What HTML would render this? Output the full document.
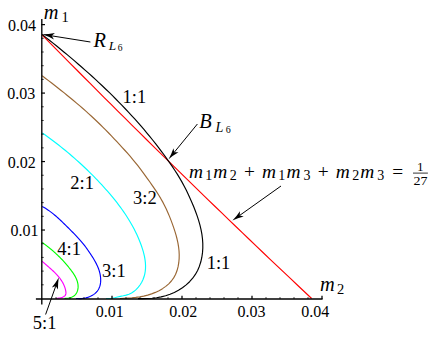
<!DOCTYPE html>
<html><head><meta charset="utf-8"><title>chart</title>
<style>
html,body{margin:0;padding:0;background:#fff;}
body{width:429px;height:343px;overflow:hidden;font-family:"Liberation Serif",serif;}
svg{display:block;}
svg text{font-family:"Liberation Serif",serif;fill:#000;}
</style></head><body>
<svg width="429" height="343" viewBox="0 0 429 343">
<rect width="429" height="343" fill="#fff"/>
<path d="M42.00,34.75 L48.91,41.78 L55.83,48.81 L62.74,55.81 L69.65,62.81 L76.57,69.78 L83.48,76.75 L90.40,83.69 L97.31,90.63 L104.22,97.55 L111.14,104.45 L118.05,111.34 L124.96,118.21 L131.88,125.07 L138.79,131.92 L145.70,138.75 L152.62,145.57 L159.53,152.37 L166.45,159.16 L173.36,165.93 L180.27,172.69 L187.19,179.44 L194.10,186.17 L201.01,192.88 L207.93,199.59 L214.84,206.28 L221.76,212.95 L228.67,219.61 L235.58,226.26 L242.50,232.90 L249.41,239.52 L256.32,246.12 L263.24,252.72 L270.15,259.30 L277.06,265.86 L283.98,272.41 L290.89,278.95 L297.81,285.48 L304.72,291.99 L311.63,298.49" fill="none" stroke="#ff0000" stroke-width="1.15"/>
<path d="M42.15,261.30 L42.66,261.73 L43.13,262.16 L43.61,262.58 L44.09,263.01 L44.58,263.44 L45.07,263.87 L45.57,264.30 L46.07,264.73 L46.57,265.16 L47.07,265.60 L47.58,266.04 L48.08,266.48 L48.59,266.92 L49.10,267.36 L49.60,267.81 L50.11,268.26 L50.62,268.71 L51.12,269.16 L51.63,269.62 L52.13,270.08 L52.63,270.54 L53.12,271.00 L53.62,271.47 L54.11,271.95 L54.59,272.42 L55.07,272.90 L55.55,273.38 L56.02,273.87 L56.49,274.36 L56.95,274.86 L57.40,275.36 L57.85,275.87 L58.29,276.37 L58.72,276.89 L59.14,277.41 L59.56,277.93 L59.96,278.46 L60.36,279.00 L60.75,279.54 L61.13,280.08 L61.49,280.63 L61.85,281.19 L62.19,281.75 L62.53,282.32 L62.85,282.90 L63.16,283.48 L63.45,284.06 L63.74,284.66 L64.01,285.26 L64.26,285.87 L64.50,286.48 L64.73,287.10 L64.94,287.73 L65.13,288.37 L65.31,289.01 L65.47,289.66 L65.62,290.32 L65.75,290.99 L65.85,291.66 L65.92,292.33 L65.94,292.99 L65.89,293.63 L65.76,294.25 L65.54,294.84 L65.20,295.39 L64.75,295.89 L64.18,296.34 L63.55,296.73 L62.87,297.08 L62.17,297.37 L61.50,297.60 L60.88,297.78 L60.31,297.91 L59.76,298.00 L59.21,298.07 L58.62,298.13 L57.96,298.20 L57.20,298.28 L56.30,298.40" fill="none" stroke="#ff00ff" stroke-width="1.15" stroke-linejoin="round"/>
<path d="M42.15,242.40 L42.98,243.01 L43.82,243.63 L44.65,244.25 L45.47,244.87 L46.28,245.49 L47.09,246.12 L47.88,246.74 L48.67,247.37 L49.45,248.00 L50.22,248.63 L50.99,249.26 L51.75,249.90 L52.50,250.54 L53.24,251.18 L53.98,251.83 L54.71,252.48 L55.43,253.14 L56.15,253.80 L56.87,254.47 L57.57,255.14 L58.27,255.81 L58.97,256.49 L59.66,257.18 L60.35,257.87 L61.03,258.57 L61.71,259.27 L62.38,259.98 L63.05,260.70 L63.71,261.42 L64.37,262.16 L65.03,262.90 L65.68,263.64 L66.33,264.40 L66.98,265.16 L67.62,265.93 L68.27,266.71 L68.90,267.50 L69.54,268.30 L70.18,269.11 L70.81,269.93 L71.43,270.75 L72.05,271.59 L72.65,272.43 L73.23,273.29 L73.80,274.15 L74.35,275.02 L74.87,275.90 L75.36,276.79 L75.82,277.69 L76.25,278.60 L76.64,279.52 L76.99,280.44 L77.30,281.37 L77.56,282.31 L77.78,283.26 L77.94,284.22 L78.05,285.18 L78.10,286.16 L78.09,287.13 L78.01,288.12 L77.87,289.09 L77.67,290.05 L77.39,290.99 L77.05,291.90 L76.63,292.78 L76.14,293.61 L75.57,294.39 L74.92,295.11 L74.20,295.76 L73.39,296.34 L72.49,296.83 L71.53,297.24 L70.51,297.58 L69.46,297.85 L68.40,298.06 L67.35,298.21 L66.33,298.30 L65.36,298.35 L64.50,298.40" fill="none" stroke="#00ff00" stroke-width="1.15" stroke-linejoin="round"/>
<path d="M42.15,206.40 L43.64,207.22 L45.09,208.09 L46.52,208.98 L47.91,209.91 L49.28,210.87 L50.63,211.85 L51.96,212.86 L53.26,213.89 L54.55,214.95 L55.82,216.02 L57.07,217.12 L58.31,218.23 L59.53,219.35 L60.75,220.49 L61.96,221.64 L63.16,222.80 L64.35,223.97 L65.54,225.14 L66.73,226.32 L67.92,227.50 L69.10,228.68 L70.29,229.86 L71.48,231.05 L72.66,232.24 L73.84,233.43 L75.00,234.63 L76.16,235.84 L77.31,237.05 L78.44,238.28 L79.56,239.52 L80.66,240.77 L81.74,242.04 L82.80,243.32 L83.83,244.62 L84.85,245.94 L85.85,247.27 L86.83,248.61 L87.79,249.96 L88.74,251.33 L89.67,252.70 L90.59,254.09 L91.50,255.49 L92.40,256.89 L93.28,258.31 L94.14,259.73 L94.98,261.18 L95.78,262.64 L96.55,264.13 L97.27,265.64 L97.94,267.18 L98.55,268.76 L99.10,270.38 L99.58,272.03 L99.98,273.70 L100.30,275.40 L100.53,277.10 L100.66,278.80 L100.69,280.48 L100.61,282.15 L100.40,283.77 L100.08,285.35 L99.62,286.88 L99.02,288.34 L98.27,289.73 L97.38,291.03 L96.33,292.24 L95.15,293.35 L93.86,294.36 L92.45,295.28 L90.96,296.08 L89.39,296.78 L87.76,297.37 L86.09,297.84 L84.38,298.20 L82.66,298.44 L80.94,298.58 L79.24,298.61 L77.57,298.53 L76.00,298.50" fill="none" stroke="#0000ff" stroke-width="1.15" stroke-linejoin="round"/>
<path d="M42.15,132.90 L44.57,134.56 L46.94,136.26 L49.30,137.98 L51.64,139.72 L53.98,141.48 L56.30,143.26 L58.61,145.05 L60.90,146.87 L63.18,148.70 L65.45,150.55 L67.70,152.41 L69.94,154.30 L72.17,156.20 L74.38,158.12 L76.57,160.06 L78.75,162.02 L80.92,163.99 L83.07,165.98 L85.20,167.99 L87.31,170.02 L89.41,172.06 L91.49,174.12 L93.56,176.20 L95.61,178.29 L97.64,180.41 L99.65,182.53 L101.64,184.68 L103.61,186.84 L105.57,189.02 L107.50,191.21 L109.42,193.43 L111.31,195.66 L113.17,197.91 L115.01,200.18 L116.82,202.48 L118.60,204.79 L120.34,207.13 L122.05,209.49 L123.72,211.88 L125.36,214.29 L126.95,216.73 L128.51,219.19 L130.02,221.69 L131.48,224.21 L132.90,226.76 L134.26,229.35 L135.58,231.96 L136.84,234.61 L138.05,237.29 L139.20,240.01 L140.29,242.76 L141.32,245.54 L142.28,248.36 L143.15,251.20 L143.92,254.06 L144.56,256.94 L145.05,259.81 L145.39,262.69 L145.54,265.56 L145.50,268.41 L145.25,271.24 L144.76,274.05 L144.02,276.81 L143.02,279.54 L141.73,282.20 L140.17,284.77 L138.36,287.19 L136.31,289.40 L134.05,291.34 L131.59,292.97 L128.96,294.22 L126.18,295.11 L123.31,295.77 L120.42,296.36 L117.56,297.02 L114.72,297.69 L111.86,298.24 L108.97,298.55 L106.00,298.50" fill="none" stroke="#00ffff" stroke-width="1.15" stroke-linejoin="round"/>
<path d="M42.15,75.80 L45.32,78.22 L48.50,80.63 L51.67,83.05 L54.83,85.50 L57.98,87.95 L61.11,90.43 L64.23,92.92 L67.33,95.43 L70.42,97.96 L73.49,100.51 L76.54,103.09 L79.57,105.68 L82.59,108.30 L85.58,110.94 L88.55,113.60 L91.49,116.29 L94.42,119.01 L97.32,121.75 L100.19,124.52 L103.03,127.32 L105.85,130.15 L108.65,133.00 L111.42,135.88 L114.17,138.78 L116.90,141.69 L119.62,144.61 L122.32,147.55 L125.00,150.50 L127.65,153.47 L130.27,156.48 L132.85,159.52 L135.37,162.60 L137.86,165.73 L140.30,168.89 L142.70,172.08 L145.06,175.30 L147.40,178.54 L149.71,181.79 L152.01,185.06 L154.27,188.34 L156.49,191.65 L158.64,195.00 L160.71,198.41 L162.67,201.89 L164.52,205.43 L166.27,209.04 L167.92,212.69 L169.48,216.38 L170.95,220.10 L172.35,223.85 L173.67,227.61 L174.91,231.39 L176.05,235.18 L177.06,239.01 L177.91,242.87 L178.57,246.78 L179.02,250.75 L179.21,254.79 L179.13,258.88 L178.75,262.95 L178.04,266.95 L176.97,270.81 L175.52,274.47 L173.66,277.88 L171.38,281.00 L168.74,283.83 L165.77,286.37 L162.53,288.65 L159.05,290.66 L155.39,292.40 L151.58,293.89 L147.68,295.13 L143.72,296.13 L139.76,296.90 L135.82,297.44 L131.89,297.82 L127.97,298.08 L124.02,298.29 L120.00,298.50" fill="none" stroke="#996633" stroke-width="1.15" stroke-linejoin="round"/>
<path d="M42.15,34.40 L45.76,37.33 L49.41,40.21 L53.04,43.12 L56.66,46.04 L60.27,48.98 L63.86,51.94 L67.44,54.91 L71.00,57.91 L74.55,60.92 L78.07,63.95 L81.58,67.00 L85.07,70.07 L88.55,73.17 L92.00,76.28 L95.43,79.42 L98.84,82.58 L102.22,85.76 L105.59,88.97 L108.93,92.20 L112.24,95.46 L115.54,98.74 L118.80,102.04 L122.04,105.38 L125.26,108.74 L128.44,112.12 L131.60,115.54 L134.73,118.98 L137.83,122.45 L140.90,125.95 L143.94,129.48 L146.94,133.04 L149.91,136.63 L152.84,140.25 L155.74,143.90 L158.59,147.57 L161.40,151.28 L164.17,155.02 L166.89,158.79 L169.57,162.59 L172.20,166.41 L174.77,170.27 L177.28,174.17 L179.70,178.12 L182.02,182.11 L184.23,186.16 L186.33,190.28 L188.32,194.46 L190.24,198.69 L192.12,202.98 L193.93,207.32 L195.65,211.70 L197.24,216.12 L198.68,220.59 L199.96,225.09 L201.03,229.62 L201.88,234.18 L202.47,238.76 L202.79,243.37 L202.81,248.00 L202.51,252.63 L201.85,257.24 L200.83,261.77 L199.42,266.17 L197.61,270.42 L195.37,274.45 L192.69,278.23 L189.60,281.72 L186.16,284.91 L182.43,287.77 L178.47,290.29 L174.33,292.45 L170.04,294.27 L165.62,295.74 L161.12,296.88 L156.55,297.71 L151.94,298.25 L147.30,298.55 L142.65,298.63 L138.00,298.60" fill="none" stroke="#000000" stroke-width="1.15" stroke-linejoin="round"/>
<line x1="41.80" y1="19.0" x2="41.80" y2="304.4" stroke="#000" stroke-width="1.35"/>
<line x1="35.9" y1="298.95" x2="322.6" y2="298.95" stroke="#000" stroke-width="1.4"/>
<line x1="41.1" y1="284.81" x2="43.7" y2="284.81" stroke="#000" stroke-width="0.80"/>
<line x1="41.1" y1="271.11" x2="43.7" y2="271.11" stroke="#000" stroke-width="0.80"/>
<line x1="41.1" y1="257.42" x2="43.7" y2="257.42" stroke="#000" stroke-width="0.80"/>
<line x1="41.1" y1="243.72" x2="43.7" y2="243.72" stroke="#000" stroke-width="0.80"/>
<line x1="41.1" y1="230.03" x2="45.0" y2="230.03" stroke="#000" stroke-width="1.20"/>
<line x1="41.1" y1="216.34" x2="43.7" y2="216.34" stroke="#000" stroke-width="0.80"/>
<line x1="41.1" y1="202.64" x2="43.7" y2="202.64" stroke="#000" stroke-width="0.80"/>
<line x1="41.1" y1="188.95" x2="43.7" y2="188.95" stroke="#000" stroke-width="0.80"/>
<line x1="41.1" y1="175.25" x2="43.7" y2="175.25" stroke="#000" stroke-width="0.80"/>
<line x1="41.1" y1="161.56" x2="45.0" y2="161.56" stroke="#000" stroke-width="1.20"/>
<line x1="41.1" y1="147.87" x2="43.7" y2="147.87" stroke="#000" stroke-width="0.80"/>
<line x1="41.1" y1="134.17" x2="43.7" y2="134.17" stroke="#000" stroke-width="0.80"/>
<line x1="41.1" y1="120.48" x2="43.7" y2="120.48" stroke="#000" stroke-width="0.80"/>
<line x1="41.1" y1="106.78" x2="43.7" y2="106.78" stroke="#000" stroke-width="0.80"/>
<line x1="41.1" y1="93.09" x2="45.0" y2="93.09" stroke="#000" stroke-width="1.20"/>
<line x1="41.1" y1="79.40" x2="43.7" y2="79.40" stroke="#000" stroke-width="0.80"/>
<line x1="41.1" y1="65.70" x2="43.7" y2="65.70" stroke="#000" stroke-width="0.80"/>
<line x1="41.1" y1="52.01" x2="43.7" y2="52.01" stroke="#000" stroke-width="0.80"/>
<line x1="41.1" y1="38.31" x2="43.7" y2="38.31" stroke="#000" stroke-width="0.80"/>
<line x1="41.1" y1="24.62" x2="45.0" y2="24.62" stroke="#000" stroke-width="1.20"/>
<line x1="56.00" y1="298.95" x2="56.00" y2="297.15" stroke="#000" stroke-width="0.80"/>
<line x1="70.00" y1="298.95" x2="70.00" y2="297.15" stroke="#000" stroke-width="0.80"/>
<line x1="84.00" y1="298.95" x2="84.00" y2="297.15" stroke="#000" stroke-width="0.80"/>
<line x1="98.00" y1="298.95" x2="98.00" y2="297.15" stroke="#000" stroke-width="0.80"/>
<line x1="112.00" y1="298.95" x2="112.00" y2="295.85" stroke="#000" stroke-width="1.25"/>
<line x1="126.00" y1="298.95" x2="126.00" y2="297.15" stroke="#000" stroke-width="0.80"/>
<line x1="140.00" y1="298.95" x2="140.00" y2="297.15" stroke="#000" stroke-width="0.80"/>
<line x1="154.00" y1="298.95" x2="154.00" y2="297.15" stroke="#000" stroke-width="0.80"/>
<line x1="168.00" y1="298.95" x2="168.00" y2="297.15" stroke="#000" stroke-width="0.80"/>
<line x1="182.00" y1="298.95" x2="182.00" y2="295.85" stroke="#000" stroke-width="1.25"/>
<line x1="196.00" y1="298.95" x2="196.00" y2="297.15" stroke="#000" stroke-width="0.80"/>
<line x1="210.00" y1="298.95" x2="210.00" y2="297.15" stroke="#000" stroke-width="0.80"/>
<line x1="224.00" y1="298.95" x2="224.00" y2="297.15" stroke="#000" stroke-width="0.80"/>
<line x1="238.00" y1="298.95" x2="238.00" y2="297.15" stroke="#000" stroke-width="0.80"/>
<line x1="252.00" y1="298.95" x2="252.00" y2="295.85" stroke="#000" stroke-width="1.25"/>
<line x1="266.00" y1="298.95" x2="266.00" y2="297.15" stroke="#000" stroke-width="0.80"/>
<line x1="280.00" y1="298.95" x2="280.00" y2="297.15" stroke="#000" stroke-width="0.80"/>
<line x1="294.00" y1="298.95" x2="294.00" y2="297.15" stroke="#000" stroke-width="0.80"/>
<line x1="308.00" y1="298.95" x2="308.00" y2="297.15" stroke="#000" stroke-width="0.80"/>
<line x1="322.00" y1="298.95" x2="322.00" y2="295.85" stroke="#000" stroke-width="1.25"/>
<line x1="90.40" y1="42.00" x2="51.68" y2="35.85" stroke="#000" stroke-width="1.0"/><path d="M42.20,34.35 Q48.49,34.28 54.96,33.03 L51.68,35.85 L53.93,39.55 Q48.16,36.36 42.20,34.35 Z" fill="#000"/>
<line x1="197.40" y1="124.00" x2="174.30" y2="152.23" stroke="#000" stroke-width="1.0"/><path d="M168.60,159.20 Q171.47,154.05 173.43,148.16 L174.30,152.23 L178.46,152.28 Q173.08,155.37 168.60,159.20 Z" fill="#000"/>
<line x1="281.00" y1="186.00" x2="239.73" y2="215.38" stroke="#000" stroke-width="1.0"/><path d="M232.40,220.60 Q236.52,216.39 239.96,211.22 L239.73,215.38 L243.73,216.52 Q237.73,218.08 232.40,220.60 Z" fill="#000"/>
<line x1="45.60" y1="314.50" x2="55.77" y2="286.07" stroke="#000" stroke-width="1.0"/><path d="M58.80,277.60 Q57.83,283.41 57.95,289.62 L55.77,286.07 L51.83,287.43 Q55.87,282.71 58.80,277.60 Z" fill="#000"/>
<text x="8.0" y="30.9" font-size="16">0.04</text>
<text x="7.2" y="99.3" font-size="16">0.03</text>
<text x="7.7" y="167.8" font-size="16">0.02</text>
<text x="10.4" y="236.3" font-size="16">0.01</text>
<text x="95.8" y="317.2" font-size="16">0.01</text>
<text x="169.2" y="317.2" font-size="16">0.02</text>
<text x="237.6" y="317.2" font-size="16">0.03</text>
<text x="301.3" y="317.2" font-size="16">0.04</text>
<text x="122.5" y="102.6" font-size="18.5">1:1</text>
<text x="70.3" y="188.7" font-size="18.5">2:1</text>
<text x="133.0" y="204.2" font-size="18.5">3:2</text>
<text x="206.7" y="269.0" font-size="18.5">1:1</text>
<text x="102.0" y="277.3" font-size="18.5">3:1</text>
<text x="57.3" y="255.4" font-size="18.5">4:1</text>
<text x="32.8" y="329.1" font-size="18.5">5:1</text>
<text x="43.8" y="18.6" font-size="20.4" font-style="italic">m</text>
<text x="61.5" y="22.0" font-size="14.5">1</text>
<text x="319.9" y="291.15" font-size="20.4" font-style="italic">m</text>
<text x="337.0" y="294.05" font-size="14.5">2</text>
<text x="93.5" y="46.7" font-size="20.4" font-style="italic">R</text>
<text x="108.8" y="49.6" font-size="13.3" font-style="italic">L</text>
<text x="117.8" y="51.15" font-size="9.5">6</text>
<text x="199.3" y="128.4" font-size="20.4" font-style="italic">B</text>
<text x="215.5" y="131.6" font-size="14.2" font-style="italic">L</text>
<text x="225.8" y="133.3" font-size="10">6</text>
<text x="189.0" y="177.6" font-size="19.4" font-style="italic">m</text>
<text x="205.3" y="180.3" font-size="14">1</text>
<text x="213.2" y="177.6" font-size="19.4" font-style="italic">m</text>
<text x="229.7" y="180.3" font-size="14">2</text>
<text x="244.0" y="178.2" font-size="19.4">+</text>
<text x="262.0" y="177.6" font-size="19.4" font-style="italic">m</text>
<text x="278.3" y="180.3" font-size="14">1</text>
<text x="286.5" y="177.6" font-size="19.4" font-style="italic">m</text>
<text x="303.5" y="180.3" font-size="14">3</text>
<text x="317.7" y="178.2" font-size="19.4">+</text>
<text x="335.8" y="177.6" font-size="19.4" font-style="italic">m</text>
<text x="352.2" y="180.3" font-size="14">2</text>
<text x="360.3" y="177.6" font-size="19.4" font-style="italic">m</text>
<text x="377.3" y="180.3" font-size="14">3</text>
<text x="392.2" y="178.1" font-size="19.4">=</text>
<text x="417.0" y="170.8" font-size="13.2">1</text>
<text x="413.4" y="184.7" font-size="13.2" textLength="14" lengthAdjust="spacingAndGlyphs">27</text>
<line x1="413" y1="173.1" x2="427.9" y2="173.1" stroke="#000" stroke-width="0.8"/>
</svg>
</body></html>
